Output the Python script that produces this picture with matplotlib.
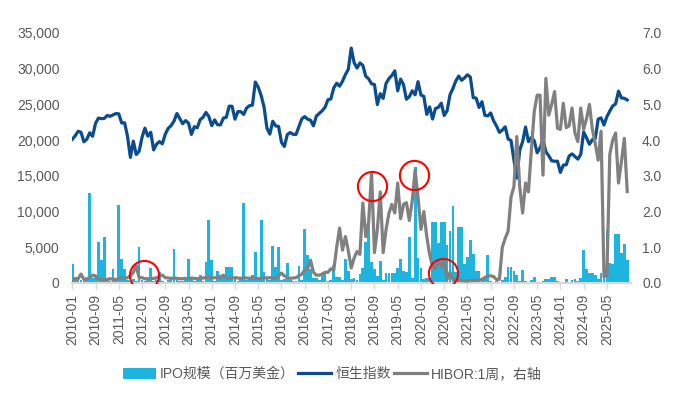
import matplotlib
matplotlib.use('Agg')
import matplotlib.pyplot as plt
from matplotlib.patches import Patch
from matplotlib.lines import Line2D
import numpy as np
import pandas as pd

plt.rcParams['font.family'] = ['Liberation Sans', 'Noto Sans CJK SC']

# monthly data, 2010-01 .. 2025-12
months = pd.date_range('2010-01-01', periods=192, freq='MS').strftime('%Y-%m').tolist()

ipo = [
    2600, 800, 600, 400, 300, 400, 12650, 700, 800, 5750, 3270, 6450,      # 2010
    400, 300, 1900, 400, 10900, 3300, 1900, 400, 300, 500, 300, 5100,      # 2011
    400, 300, 600, 2100, 300, 400, 1550, 300, 200, 400, 500, 4700,         # 2012
    400, 300, 300, 400, 3300, 500, 300, 400, 1170, 300, 2900, 8870,        # 2013
    3270, 300, 1730, 1100, 800, 2290, 2290, 2290, 560, 300, 560, 11160,    # 2014
    400, 500, 1100, 4300, 700, 8830, 1500, 900, 400, 5140, 2200, 5000,     # 2015
    400, 600, 2800, 400, 300, 300, 2430, 400, 7600, 3900, 2000, 700,       # 2016
    700, 400, 1200, 1200, 300, 400, 2570, 900, 900, 400, 3300, 1700,       # 2017
    500, 750, 370, 1200, 2150, 5800, 8500, 3000, 1900, 1000, 3100, 400,    # 2018
    1450, 1450, 1450, 1450, 2150, 3300, 1700, 1500, 6400, 750, 16300, 3500,  # 2019
    2150, 500, 750, 750, 8600, 8600, 5600, 8600, 8600, 5300, 7300, 10800,  # 2020
    1500, 7800, 7800, 2700, 3700, 6000, 4000, 1700, 1700, 400, 600, 3900,  # 2021
    300, 200, 300, 200, 400, 800, 2300, 2300, 1700, 1100, 300, 1800,       # 2022
    300, 200, 400, 800, 200, 200, 300, 600, 500, 800, 900, 300,            # 2023
    200, 200, 500, 200, 400, 600, 300, 700, 4600, 1960, 1400, 1400,        # 2024
    1100, 600, 1450, 900, 7400, 2800, 2700, 6800, 6900, 4200, 5460, 3200,  # 2025
]

hsi = [
    20122, 20609, 21239, 21108, 19765, 20129, 21030, 20537, 22359, 23096, 23008, 23035,
    23447, 23338, 23528, 23721, 23684, 22398, 22440, 20535, 17592, 19864, 17989, 18434,
    20390, 21680, 20556, 21094, 18630, 19441, 19796, 19483, 20840, 21642, 22030, 22657,
    23730, 23020, 22300, 22737, 22392, 20803, 21883, 21731, 22860, 23206, 23881, 23306,
    22035, 22837, 22151, 22134, 23082, 23191, 24757, 24742, 22933, 23998, 23987, 23605,
    24507, 24823, 24901, 28133, 27424, 26250, 24636, 21671, 20846, 22640, 21996, 21914,
    19683, 19112, 20777, 21067, 20815, 20794, 21891, 22977, 23297, 22935, 22790, 22001,
    23361, 23741, 24112, 24615, 25661, 25765, 27323, 27970, 27554, 28246, 29177, 29919,
    32887, 30845, 30093, 30808, 30469, 28955, 28583, 27889, 27789, 24980, 26507, 25846,
    27942, 28633, 29051, 29699, 26901, 28543, 27778, 25725, 26092, 26907, 26346, 28190,
    26313, 26130, 23603, 24644, 22961, 24427, 24595, 25177, 23459, 24107, 26341, 27231,
    28284, 28980, 28378, 28725, 29152, 28828, 25961, 25879, 24576, 25377, 23475, 23398,
    23802, 22713, 21997, 21089, 21415, 21860, 20156, 19955, 17223, 14687, 18597, 19781,
    21842, 19786, 20400, 19895, 18234, 18916, 20079, 18382, 17810, 17112, 17043, 17047,
    15485, 16511, 16541, 17763, 18080, 17719, 17345, 17989, 21134, 20317, 19424, 20060,
    20225, 22941, 23120, 22119, 23290, 24072, 24773, 25077, 26856, 25907, 25859, 25630,
]

hibor = [
    0.08, 0.1, 0.12, 0.25, 0.1, 0.12, 0.15, 0.22, 0.2, 0.12, 0.1, 0.08,
    0.1, 0.12, 0.1, 0.1, 0.12, 0.15, 0.12, 0.15, 0.2, 0.3, 0.48, 0.15,
    0.15, 0.12, 0.12, 0.12, 0.13, 0.14, 0.2, 0.22, 0.15, 0.14, 0.13, 0.14,
    0.13, 0.12, 0.12, 0.13, 0.12, 0.14, 0.13, 0.12, 0.13, 0.14, 0.15, 0.16,
    0.14, 0.15, 0.15, 0.16, 0.22, 0.14, 0.13, 0.14, 0.15, 0.14, 0.13, 0.15,
    0.14, 0.13, 0.15, 0.13, 0.12, 0.13, 0.15, 0.14, 0.15, 0.13, 0.12, 0.2,
    0.28, 0.2, 0.15, 0.13, 0.14, 0.15, 0.2, 0.25, 0.36, 0.4, 0.64, 0.3,
    0.22, 0.22, 0.25, 0.3, 0.3, 0.4, 0.36, 1.0, 1.54, 0.92, 1.3, 0.9,
    0.42, 0.7, 0.88, 0.8, 2.24, 1.3, 1.7, 3.08, 0.85, 1.5, 2.55, 0.85,
    1.5, 1.96, 2.2, 1.96, 2.8, 1.8, 2.2, 2.25, 1.75, 2.3, 3.16, 2.4,
    1.5, 2.0, 1.3, 0.8, 0.46, 0.4, 0.6, 0.45, 0.64, 0.1, 0.3, 0.1,
    0.08, 0.07, 0.07, 0.06, 0.06, 0.07, 0.07, 0.08, 0.08, 0.1, 0.15, 0.2,
    0.2, 0.18, 0.1, 0.1, 1.0, 1.25, 1.45, 2.4, 2.7, 4.1, 2.7, 1.96,
    2.8, 2.55, 3.72, 4.8, 5.26, 5.26, 3.02, 5.73, 4.7, 5.0, 5.36, 4.33,
    4.3, 5.03, 4.35, 4.4, 4.9, 4.2, 3.96, 4.9, 4.3, 4.6, 5.0, 4.3,
    3.9, 3.44, 4.25, 0.18, 0.2, 3.6, 4.0, 4.2, 2.8, 3.4, 4.05, 2.56,
]

# red circle highlights (month index, HIBOR value)
circle_x = [24.7, 103.1, 117.5, 127.5]
circle_y = [0.22, 2.72, 3.02, 0.28]

label_names = ['IPO规模（百万美金）', '恒生指数', 'HIBOR:1周，右轴']

c_bar = '#1DB5DF'
c_hsi = '#0A4C8E'
c_hibor = '#808080'
c_text = '#595959'

x = np.arange(len(months))

fig = plt.figure(figsize=(6.88, 3.97), dpi=100)
ax = fig.add_axes([72 / 688, 1 - 283 / 397, 559 / 688, 250 / 397])
ax.bar(x, ipo, width=0.95, color=c_bar, zorder=1)
ax.plot(x, hsi, color=c_hsi, lw=2.3, zorder=3, solid_joinstyle='round')
ax.set_ylim(0, 35000)
ax.set_yticks(range(0, 35001, 5000))
ax.set_yticklabels(['{:,}'.format(v) for v in range(0, 35001, 5000)])
ax.set_xlim(-0.1, 192.3)
ticks = list(range(0, len(months), 8))
ax.set_xticks(ticks)
ax.set_xticklabels([months[i] for i in ticks], rotation=90)

ax2 = ax.twinx()
ax2.plot(x, hibor, color=c_hibor, lw=2.3, solid_joinstyle='round')
ax2.plot(circle_x, circle_y, 'o', ms=21, mfc='none', mec='#FF0000', mew=1.5)
ax2.set_ylim(0, 7)
ax2.set_yticks(range(0, 8))
ax2.set_yticklabels(['{:.1f}'.format(v) for v in range(0, 8)])

for a in (ax, ax2):
    for s in a.spines.values():
        s.set_visible(False)
    a.tick_params(axis='y', length=0, labelsize=10, labelcolor=c_text)
ax.spines['bottom'].set_visible(True)
ax.spines['bottom'].set_color('#D9D9D9')
ax.spines['bottom'].set_linewidth(1.5)
ax.tick_params(axis='x', length=4, width=1, color='#D9D9D9', labelsize=10,
               labelcolor=c_text, pad=4)
ax.tick_params(axis='y', pad=9)
ax2.tick_params(axis='y', pad=8)

handles = [Patch(facecolor=c_bar),
           Line2D([0], [0], color=c_hsi, lw=2.3),
           Line2D([0], [0], color=c_hibor, lw=2.3)]
leg = fig.legend(handles, label_names, loc='center', bbox_to_anchor=(0.483, 0.058),
                 ncol=3, frameon=False, fontsize=10, handlelength=2.4, handleheight=0.85,
                 handletextpad=0.3, columnspacing=0.2)
for t in leg.get_texts():
    t.set_color(c_text)

fig.savefig('out.png', dpi=100)
